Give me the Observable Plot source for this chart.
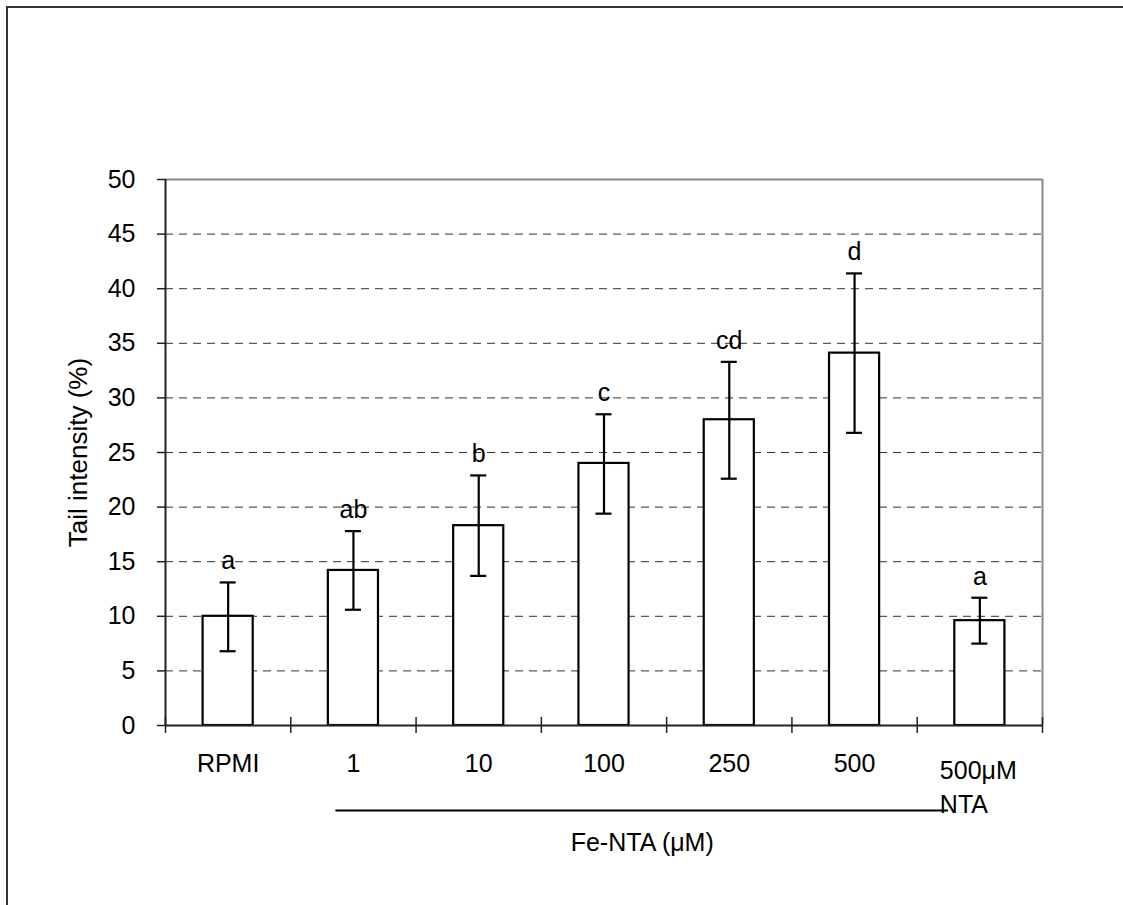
<!DOCTYPE html>
<html>
<head>
<meta charset="utf-8">
<script src="https://cdn.jsdelivr.net/npm/d3@7"></script>
<script src="https://cdn.jsdelivr.net/npm/@observablehq/plot@0.6"></script>
<style>
  html, body { margin: 0; padding: 0; background: #fff; overflow: hidden; }
  #wrap { position: relative; width: 1123px; height: 905px; overflow: hidden; }
  #frame { position: absolute; left: 6px; top: 6px; width: 3000px; height: 3000px; border: 2px solid #333; box-sizing: border-box; }
  #chart { position: absolute; left: 0; top: 0; }
</style>
</head>
<body>
<div id="wrap"><div id="frame"></div><div id="chart"></div></div>
<script>
const categories = ["RPMI", "1", "10", "100", "250", "500", "500μM\nNTA"];
const means      = [10.0, 14.2, 18.3, 24.0, 28.0, 34.1, 9.6];
const errLow     = [6.8, 10.6, 13.7, 19.4, 22.6, 26.8, 7.5];
const errHigh    = [13.1, 17.8, 22.9, 28.5, 33.3, 41.4, 11.7];
const letters    = ["a", "ab", "b", "c", "cd", "d", "a"];
const yTicks     = [0, 5, 10, 15, 20, 25, 30, 35, 40, 45, 50];
const gridTicks  = [5, 10, 15, 20, 25, 30, 35, 40, 45];
const groupSpan  = [1.36, 6.25];   // bracket under Fe-NTA concentrations (in category units)
const yLabel = "Tail intensity (%)";
const xLabel = "Fe-NTA (μM)";

const data = categories.map((c, i) => ({
  i, label: c, mean: means[i], lo: errLow[i], hi: errHigh[i], letter: letters[i],
  last: i === categories.length - 1
}));
const boundaries = d3.range(0, categories.length + 1);
const barHalf = 0.2, capHalf = 0.064;
const FONT = "Liberation Sans, Arial, sans-serif";
const FS = 25;

const chart = Plot.plot({
  width: 1123,
  height: 905,
  marginLeft: 165,
  marginRight: 81,
  marginTop: 179,
  marginBottom: 180,
  style: { fontFamily: FONT, fontSize: FS + "px", color: "#000", background: "transparent" },
  x: { type: "linear", domain: [0, categories.length], axis: null },
  y: { domain: [0, 50], axis: null },
  marks: [
    // dashed grid
    Plot.ruleY(gridTicks, { stroke: "#333", strokeWidth: 1, strokeDasharray: "8,6" }),
    // top & right plot border (gray)
    Plot.ruleY([50], { stroke: "#888", strokeWidth: 2 }),
    Plot.ruleX([categories.length], { y1: 0, y2: 50, stroke: "#888", strokeWidth: 2 }),
    // bars
    Plot.rectY(data, { x1: d => d.i + 0.5 - barHalf, x2: d => d.i + 0.5 + barHalf, y1: 0, y2: "mean",
      fill: "white", stroke: "black", strokeWidth: 2.2 }),
    // error bars
    Plot.ruleX(data, { x: d => d.i + 0.5, y1: "lo", y2: "hi", stroke: "black", strokeWidth: 2.2 }),
    Plot.ruleY(data, { x1: d => d.i + 0.5 - capHalf, x2: d => d.i + 0.5 + capHalf, y: "hi", stroke: "black", strokeWidth: 2.2 }),
    Plot.ruleY(data, { x1: d => d.i + 0.5 - capHalf, x2: d => d.i + 0.5 + capHalf, y: "lo", stroke: "black", strokeWidth: 2.2 }),
    // significance letters
    Plot.text(data, { x: d => d.i + 0.5, y: "hi", text: "letter", dy: -13, lineAnchor: "bottom",
      fontSize: FS, fill: "black" }),
    // axes lines
    Plot.ruleX([0], { y1: 0, y2: 50, stroke: "#222", strokeWidth: 2 }),
    Plot.ruleY([0], { x1: 0, x2: categories.length, stroke: "#222", strokeWidth: 2 }),
    // y axis ticks + labels
    Plot.axisY(yTicks, { tickSize: 8, tickPadding: 22, stroke: "#222", strokeWidth: 1.5,
      fontSize: FS, fill: "black", label: null }),
    // x axis boundary ticks (crossing the axis)
    Plot.axisX(boundaries, { tickSize: 16, dy: -8, tickFormat: () => "", stroke: "#222", strokeWidth: 1.5, label: null }),
    // x category labels
    Plot.text(data.filter(d => !d.last), { x: d => d.i + 0.5, y: 0, text: "label", dy: 29, lineAnchor: "top",
      fontSize: FS, fill: "black" }),
    Plot.text(data.filter(d => d.last), { x: d => d.i + 0.5, y: 0, text: "label", dy: 29, dx: -40, lineAnchor: "top",
      textAnchor: "start", lineHeight: 1.36, fontSize: FS, fill: "black" }),
    // bracket for Fe-NTA group
    Plot.ruleY([0], { x1: groupSpan[0], x2: groupSpan[1], dy: 85, stroke: "black", strokeWidth: 2 }),
    Plot.text([xLabel], { x: (groupSpan[0] + groupSpan[1]) / 2, y: 0, dy: 117, lineAnchor: "middle",
      fontSize: FS, fill: "black" }),
    // y axis title
    Plot.text([yLabel], { frameAnchor: "left", dx: -87, dy: 0, rotate: -90, lineAnchor: "middle",
      textAnchor: "middle", fontSize: 26, fill: "black" })
  ]
});
document.getElementById("chart").appendChild(chart);
</script>
</body>
</html>
